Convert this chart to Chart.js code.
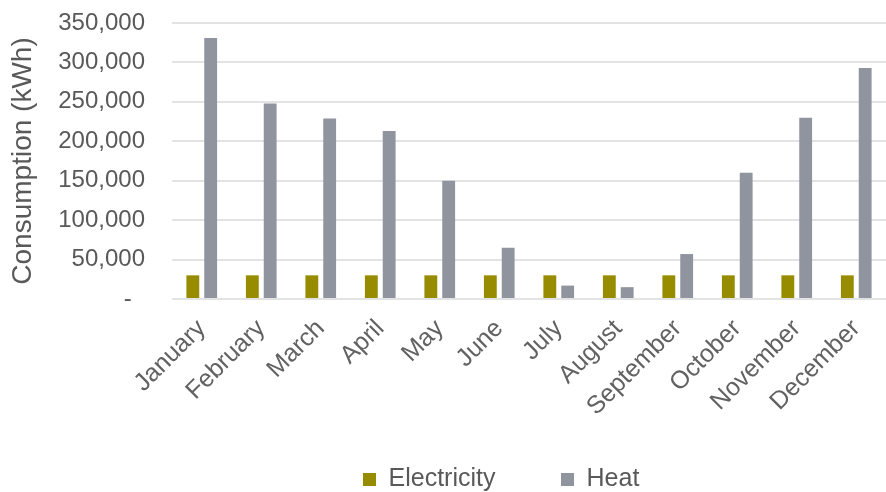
<!DOCTYPE html>
<html>
<head>
<meta charset="utf-8">
<script src="https://cdn.jsdelivr.net/npm/chart.js@4"></script>
<style>
    html, body { margin: 0; padding: 0; background: #ffffff; }
    #wrap { width: 886px; height: 492px; position: relative; }
</style>
</head>
<body>
<div id="wrap"><canvas id="chart"></canvas></div>
<script>
// Dados
const months = ['January', 'February', 'March', 'April', 'May', 'June', 'July', 'August', 'September', 'October', 'November', 'December'];
const electricity = [30000, 30000, 30000, 30000, 30000, 30000, 30000, 30000, 30000, 30000, 30000, 30000];
const heat = [331000, 248000, 229000, 213000, 150000, 65000, 17000, 15000, 57000, 160000, 230000, 293000];
const yTicks = [0, 50000, 100000, 150000, 200000, 250000, 300000, 350000];

const textColor = '#595959';
const fontName = "'Liberation Sans', Arial, sans-serif";

// Posição da legenda
const moveLegend = {
    id: 'moveLegend',
    afterLayout(chart) {
        const lg = chart.legend;
        const dx = 353 - lg.left;
        const dy = 10;
        lg.left += dx; lg.right += dx;
        lg.top += dy; lg.bottom += dy;
    }
};

const ctx = document.getElementById('chart').getContext('2d');
new Chart(ctx, {
    type: 'bar',
    data: {
        labels: months,
        datasets: [
            {
                label: 'Electricity',
                data: electricity,
                backgroundColor: '#978b00',
                borderWidth: 0,
                barPercentage: 0.72,
                categoryPercentage: 0.6
            },
            {
                label: 'Heat',
                data: heat,
                backgroundColor: '#90949f',
                borderWidth: 0,
                barPercentage: 0.72,
                categoryPercentage: 0.6
            }
        ]
    },
    options: {
        responsive: true,
        maintainAspectRatio: false,
        animation: false,
        layout: {
            padding: { top: 23, left: 6, right: 0, bottom: 0 }
        },
        scales: {
            x: {
                grid: { display: false },
                border: { display: false },
                ticks: {
                    color: '#626262',
                    font: { family: fontName, size: 25 },
                    minRotation: 45,
                    maxRotation: 45,
                    padding: 7
                },
                afterFit(axis) { axis.height = 148; }
            },
            y: {
                min: 0,
                max: 350000,
                afterBuildTicks: function(axis) {
                    axis.ticks = yTicks.map(v => ({ value: v }));
                },
                grid: {
                    color: '#e3e3e3',
                    lineWidth: 2,
                    drawTicks: false
                },
                border: { display: false },
                ticks: {
                    color: textColor,
                    font: { family: fontName, size: 24 },
                    padding: 27,
                    callback: function(value) {
                        return value === 0 ? '-  ' : value.toLocaleString('en-US');
                    }
                },
                title: {
                    display: true,
                    text: 'Consumption (kWh)',
                    color: textColor,
                    font: { family: fontName, size: 28 },
                    padding: { top: 0, bottom: 14 }
                },
                afterFit(axis) {
                    axis.width = 166;
                    axis.paddingTop = 0;
                }
            }
        },
        plugins: {
            legend: {
                position: 'bottom',
                align: 'start',
                labels: {
                    color: textColor,
                    font: { family: fontName, size: 25 },
                    boxWidth: 13,
                    boxHeight: 13,
                    padding: 10,
                    generateLabels(ch) {
                        const items = Chart.defaults.plugins.legend.labels.generateLabels(ch);
                        items[0].text = items[0].text + ' '.repeat(8);
                        return items;
                    }
                }
            },
            tooltip: { enabled: false }
        }
    },
    plugins: [moveLegend]
});
</script>
</body>
</html>
